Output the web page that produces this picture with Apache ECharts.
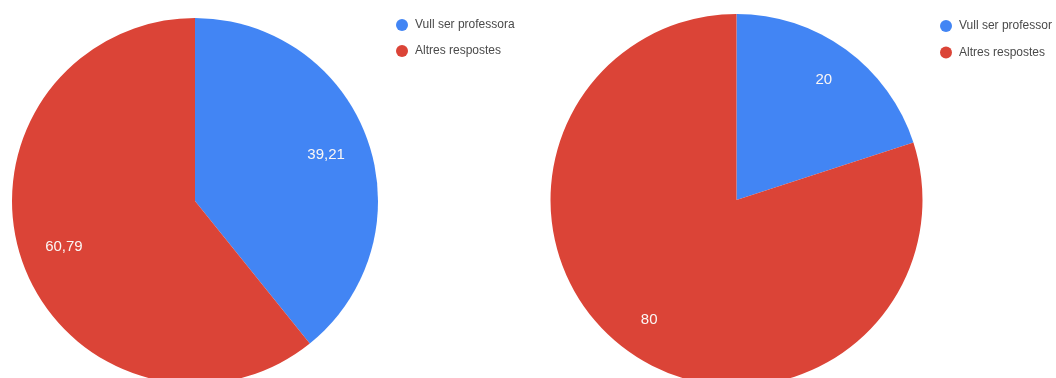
<!DOCTYPE html>
<html>
<head>
<meta charset="utf-8">
<script src="https://cdn.jsdelivr.net/npm/echarts@6/dist/echarts.min.js"></script>
<style>
  html, body { margin: 0; padding: 0; background: #fff; }
  #chart { width: 1056px; height: 378px; }
</style>
</head>
<body>
<div id="chart"></div>
<script>
// Answer categories shared by both pies
const categories = ['Vull ser professora', 'Altres respostes'];
const categoriesRight = ['Vull ser professor', 'Altres respostes'];
// Percentages for each group
const valuesLeft = [39.21, 60.79];
const valuesRight = [20, 80];
const sliceColors = ['#4285F4', '#DB4437'];

const fmt = v => String(v).replace('.', ',');

function toData(names, values) {
  return names.map((n, i) => ({ name: n, value: values[i], itemStyle: { color: sliceColors[i] } }));
}

// A filled pie plus a transparent ring on top of it that only carries the labels,
// so the value text sits out toward the rim
function pieSeries(names, values, center, r, labelInner) {
  return [
    {
      type: 'pie',
      center: center,
      radius: [0, r],
      startAngle: 90,
      clockwise: true,
      silent: true,
      label: { show: false },
      labelLine: { show: false },
      itemStyle: { borderWidth: 0 },
      data: toData(names, values)
    },
    {
      type: 'pie',
      center: center,
      radius: [labelInner, r],
      startAngle: 90,
      clockwise: true,
      silent: true,
      itemStyle: { color: 'rgba(0,0,0,0)', borderWidth: 0 },
      label: {
        show: true,
        position: 'inside',
        color: '#fbf7f5',
        fontFamily: 'Arial, "Liberation Sans", sans-serif',
        fontSize: 15,
        formatter: p => fmt(p.value)
      },
      labelLine: { show: false },
      data: names.map((n, i) => ({ name: n, value: values[i] }))
    }
  ];
}

function legendFor(names, left, top, gap) {
  return {
    left: left,
    top: top,
    padding: 0,
    orient: 'vertical',
    icon: 'circle',
    itemWidth: 12,
    itemHeight: 12,
    itemGap: gap,
    selectedMode: false,
    textStyle: { color: '#4a4a4a', fontSize: 12, fontFamily: 'Arial, "Liberation Sans", sans-serif', padding: [0, 0, 0, 2] },
    data: names.map((n, i) => ({ name: n, itemStyle: { color: sliceColors[i] } }))
  };
}

const chart = echarts.init(document.getElementById('chart'), null, { renderer: 'canvas' });
chart.setOption({
  backgroundColor: '#ffffff',
  animation: false,
  legend: [legendFor(categories, 396, 19, 14), legendFor(categoriesRight, 940, 20, 14.5)],
  series: [
    ...pieSeries(categories, valuesLeft, [195, 201], 183, 89),
    ...pieSeries(categoriesRight, valuesRight, [736.5, 200], 186, 105)
  ]
});
</script>
</body>
</html>
